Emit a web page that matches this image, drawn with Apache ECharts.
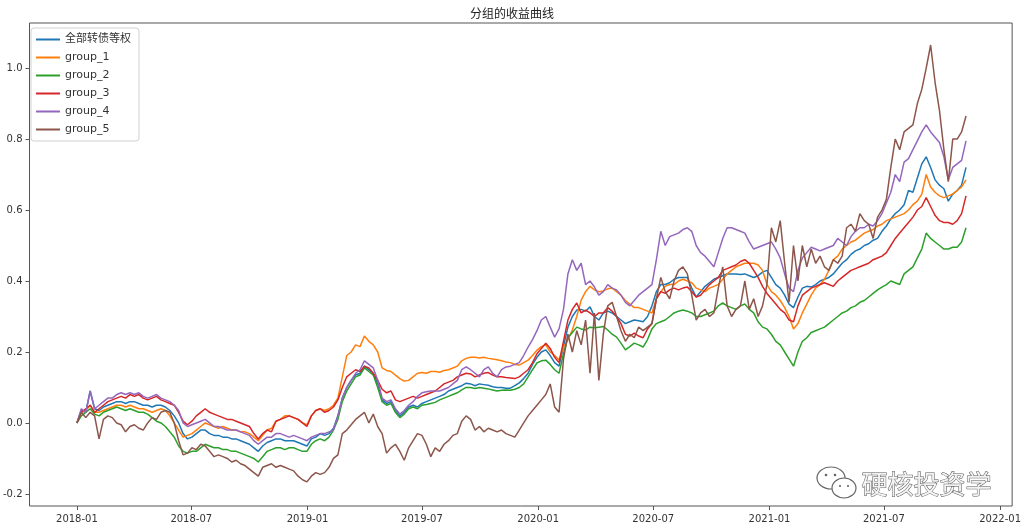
<!DOCTYPE html>
<html>
<head>
<meta charset="utf-8">
<script src="https://cdn.jsdelivr.net/npm/echarts@6/dist/echarts.min.js"></script>
<style>
html,body{margin:0;padding:0;background:#fff;}
#chart{width:1024px;height:529px;}
</style>
</head>
<body>
<div id="chart"></div>
<script>
// ---- data (weekly samples starting 2018-01-01) ----
const startDate = [2018, 0, 1];
const stepDays = 7;
const seriesNames = ['全部转债等权', 'group_1', 'group_2', 'group_3', 'group_4', 'group_5'];
const xTickLabels = ['2018-01','2018-07','2019-01','2019-07','2020-01','2020-07','2021-01','2021-07','2022-01'];
const yTickValues = [-0.2, 0.0, 0.2, 0.4, 0.6, 0.8, 1.0];

const allEq = [
0,.035,.03,.09,.04,.035,.045,.05,.055,.06,
.06,.055,.06,.06,.055,.05,.05,.045,.05,.05,
.045,.035,.02,0,-.03,-.045,-.04,-.03,-.02,-.02,
-.03,-.035,-.035,-.04,-.04,-.045,-.045,-.05,-.055,-.06,
-.07,-.08,-.065,-.055,-.05,-.045,-.045,-.05,-.05,-.05,
-.055,-.06,-.065,-.045,-.04,-.03,-.035,-.03,-.015,.02,
.07,.1,.12,.135,.14,.16,.15,.14,.11,.065,
.055,.06,.035,.02,.03,.045,.05,.045,.055,.06,
.065,.07,.075,.08,.09,.095,.1,.105,.112,.11,
.105,.11,.108,.106,.102,.1,.1,.098,.098,.105,
.113,.125,.14,.165,.185,.2,.206,.19,.17,.16,
.215,.27,.3,.318,.32,.315,.327,.3,.29,.31,
.315,.31,.3,.29,.28,.285,.29,.288,.285,.3,
.33,.37,.39,.39,.395,.405,.41,.41,.41,.38,
.355,.37,.385,.395,.405,.41,.415,.42,.42,.42,
.418,.42,.415,.41,.415,.425,.43,.41,.39,.38,
.36,.335,.325,.355,.38,.385,.383,.39,.4,.405,
.41,.42,.435,.45,.46,.475,.485,.49,.5,.505,
.515,.52,.54,.555,.575,.59,.6,.615,.655,.65,
.69,.73,.75,.72,.685,.67,.66,.625,.645,.655,
.67,.72];

const group1 = [
0,.03,.035,.05,.03,.03,.035,.04,.045,.05,
.05,.045,.05,.045,.04,.04,.035,.03,.035,.04,
.035,.02,0,-.02,-.04,-.035,-.03,-.02,-.01,0,
-.005,-.01,-.015,-.01,-.015,-.02,-.02,-.025,-.025,-.03,
-.04,-.05,-.035,-.02,-.015,.005,.01,.02,.02,.015,
.01,0,-.005,.02,.035,.04,.035,.04,.05,.07,
.13,.19,.2,.22,.215,.245,.23,.22,.2,.155,
.148,.145,.135,.125,.118,.12,.13,.14,.142,.14,
.145,.145,.143,.148,.15,.155,.16,.175,.182,.185,
.185,.183,.185,.182,.18,.178,.175,.172,.17,.165,
.163,.17,.177,.19,.205,.215,.22,.2,.19,.178,
.214,.235,.262,.3,.346,.37,.385,.375,.37,.372,
.378,.38,.37,.36,.345,.335,.325,.325,.32,.315,
.31,.35,.37,.385,.39,.39,.4,.405,.4,.395,
.38,.375,.37,.38,.385,.39,.405,.42,.43,.44,
.445,.45,.45,.45,.445,.43,.39,.37,.36,.345,
.325,.3,.265,.28,.31,.335,.36,.38,.39,.405,
.43,.46,.47,.49,.5,.51,.515,.525,.535,.54,
.545,.555,.56,.57,.575,.58,.585,.59,.6,.615,
.625,.645,.7,.665,.65,.64,.635,.64,.645,.655,
.665,.685];

const group2 = [
0,.02,.03,.04,.025,.02,.03,.035,.04,.045,
.04,.035,.04,.035,.03,.03,.025,.015,.005,0,
-.01,-.025,-.04,-.065,-.08,-.085,-.08,-.08,-.07,-.06,
-.065,-.07,-.07,-.075,-.075,-.08,-.08,-.085,-.09,-.095,
-.1,-.11,-.095,-.08,-.075,-.07,-.07,-.075,-.07,-.07,
-.075,-.08,-.08,-.06,-.05,-.045,-.05,-.04,-.02,.01,
.06,.09,.11,.13,.135,.155,.145,.135,.1,.06,
.05,.055,.03,.015,.025,.04,.045,.04,.05,.052,
.055,.058,.065,.07,.075,.08,.085,.093,.1,.1,
.097,.1,.098,.096,.093,.09,.092,.093,.092,.095,
.1,.11,.13,.15,.169,.175,.177,.165,.15,.14,
.195,.24,.255,.27,.265,.262,.27,.268,.27,.272,
.262,.25,.242,.225,.206,.215,.225,.22,.214,.235,
.265,.28,.285,.29,.3,.31,.315,.318,.315,.31,
.3,.3,.305,.31,.315,.33,.338,.33,.325,.32,
.33,.335,.32,.31,.285,.27,.265,.25,.23,.22,
.2,.18,.16,.2,.23,.24,.255,.26,.265,.27,
.28,.29,.3,.31,.315,.325,.33,.34,.345,.355,
.365,.375,.383,.39,.4,.395,.39,.42,.43,.44,
.465,.49,.535,.52,.51,.5,.49,.49,.495,.495,
.51,.55];

const group3 = [
0,.03,.04,.05,.03,.04,.05,.06,.065,.07,
.075,.07,.08,.075,.08,.07,.065,.07,.075,.065,
.06,.055,.05,.03,.005,-.005,.005,.02,.03,.04,
.03,.025,.02,.015,.01,.01,.005,0,-.005,-.01,
-.03,-.045,-.03,-.02,-.025,.005,.01,.015,.02,.015,
.01,0,-.01,.02,.035,.04,.03,.035,.045,.065,
.1,.13,.14,.15,.145,.16,.155,.14,.12,.095,
.085,.09,.065,.06,.065,.07,.075,.07,.075,.08,
.085,.09,.1,.11,.115,.12,.13,.135,.14,.138,
.13,.135,.14,.142,.135,.13,.13,.128,.127,.125,
.13,.14,.15,.17,.195,.21,.225,.21,.185,.17,
.23,.29,.32,.338,.31,.318,.31,.3,.31,.31,
.325,.315,.3,.28,.25,.245,.253,.245,.24,.265,
.28,.35,.37,.365,.375,.38,.375,.38,.383,.37,
.355,.36,.375,.39,.4,.41,.43,.435,.44,.445,
.455,.46,.45,.43,.41,.385,.365,.35,.335,.32,
.31,.29,.285,.33,.36,.37,.38,.385,.39,.395,
.39,.385,.4,.41,.42,.43,.435,.44,.445,.45,
.46,.465,.47,.48,.5,.52,.535,.55,.565,.58,
.6,.61,.635,.61,.585,.57,.565,.565,.56,.57,
.59,.64];

const group4 = [
0,.04,.03,.09,.04,.05,.06,.07,.07,.08,
.085,.08,.085,.08,.085,.075,.07,.075,.08,.07,
.065,.06,.05,.035,0,-.01,-.005,0,.005,.01,
0,-.01,-.01,-.015,-.02,-.02,-.02,-.025,-.03,-.035,
-.05,-.06,-.05,-.04,-.04,-.03,-.03,-.035,-.04,-.035,
-.04,-.045,-.05,-.04,-.035,-.03,-.03,-.025,-.02,.02,
.07,.1,.12,.14,.15,.175,.165,.155,.12,.07,
.06,.065,.04,.025,.035,.05,.06,.075,.085,.088,
.09,.09,.09,.095,.1,.11,.12,.15,.158,.15,
.14,.13,.15,.158,.14,.13,.15,.158,.16,.165,
.17,.19,.214,.235,.26,.29,.3,.27,.242,.265,
.32,.42,.46,.43,.45,.39,.4,.383,.36,.37,
.39,.38,.375,.36,.34,.33,.345,.36,.37,.38,
.39,.46,.54,.5,.525,.53,.535,.545,.55,.54,
.5,.48,.47,.455,.44,.48,.52,.55,.55,.545,
.54,.535,.51,.49,.495,.5,.505,.51,.49,.465,
.42,.38,.37,.43,.465,.48,.495,.49,.485,.49,
.495,.5,.52,.51,.5,.525,.54,.55,.55,.56,
.555,.57,.59,.62,.65,.7,.68,.735,.745,.77,
.795,.82,.84,.82,.805,.79,.75,.685,.72,.73,
.74,.795];

const group5 = [
0,.03,.015,.03,.02,-.045,.01,.02,.015,0,
-.005,-.025,-.01,-.005,-.015,-.02,0,.015,.01,.03,
.035,.03,0,-.05,-.09,-.085,-.07,-.075,-.06,-.065,
-.08,-.095,-.09,-.095,-.1,-.11,-.105,-.115,-.12,-.13,
-.14,-.15,-.125,-.12,-.115,-.125,-.12,-.125,-.13,-.135,
-.15,-.16,-.166,-.15,-.14,-.145,-.14,-.125,-.1,-.09,
-.03,-.02,-.005,.01,.02,.03,0,.025,-.01,-.03,
-.085,-.07,-.06,-.08,-.105,-.07,-.05,-.03,-.035,-.06,
-.095,-.07,-.08,-.06,-.05,-.035,-.03,.005,.02,.01,
-.02,-.01,-.025,-.015,-.02,-.025,-.02,-.03,-.035,-.04,
-.02,0,.02,.035,.05,.065,.08,.11,.045,.03,
.18,.25,.2,.26,.22,.29,.14,.31,.12,.25,
.33,.34,.3,.26,.23,.25,.24,.27,.26,.27,
.28,.35,.41,.37,.35,.4,.43,.44,.42,.36,
.29,.31,.32,.3,.31,.38,.44,.33,.3,.32,
.33,.4,.32,.35,.3,.33,.39,.55,.51,.57,
.45,.34,.5,.4,.5,.44,.49,.45,.47,.44,
.43,.46,.45,.47,.55,.56,.54,.59,.57,.56,
.52,.58,.6,.63,.72,.8,.77,.82,.83,.84,
.9,.94,1.0,1.065,.96,.88,.77,.68,.8,.8,
.82,.865];

const seriesValues = [allEq, group1, group2, group3, group4, group5];
const colors = ['#1f77b4', '#ff7f0e', '#2ca02c', '#d62728', '#9467bd', '#8c564b'];

// ---- build ----
const DAY = 86400000;
const t0 = Date.UTC(startDate[0], startDate[1], startDate[2]);
function ym(s) { const p = s.split('-'); return Date.UTC(+p[0], +p[1] - 1, 1); }
const xTickValues = xTickLabels.map(ym);
function fmtYM(v) {
  const d = new Date(v);
  const m = d.getUTCMonth() + 1;
  return d.getUTCFullYear() + '-' + (m < 10 ? '0' + m : m);
}

const series = seriesNames.map((name, i) => ({
  name: name,
  type: 'line',
  symbol: 'none',
  showSymbol: false,
  color: colors[i],
  lineStyle: { width: 1.5, color: colors[i] },
  data: seriesValues[i].map((v, k) => [t0 + k * stepDays * DAY, v]),
  animation: false
}));

const chart = echarts.init(document.getElementById('chart'), null, { renderer: 'canvas' });
const fontFamily = '"DejaVu Sans", "Noto Sans CJK SC", sans-serif';

chart.setOption({
  backgroundColor: '#ffffff',
  animation: false,
  color: colors,
  title: {
    text: '分组的收益曲线',
    left: 'center',
    top: 4,
    textStyle: { fontSize: 12, fontWeight: 'normal', color: '#222', fontFamily: fontFamily }
  },
  legend: {
    orient: 'vertical',
    left: 31,
    top: 28,
    padding: [5, 8, 5, 5],
    icon: 'rect',
    itemWidth: 24,
    itemHeight: 2,
    itemGap: 5,
    backgroundColor: '#ffffff',
    borderColor: '#d0d0d0',
    borderWidth: 1,
    borderRadius: 3,
    textStyle: { fontSize: 11, color: '#333', fontFamily: fontFamily, lineHeight: 13 },
    data: seriesNames
  },
  grid: {
    left: 27, right: 8, top: 23, bottom: 23,
    show: true,
    borderColor: '#555',
    borderWidth: 1,
    backgroundColor: 'transparent'
  },
  xAxis: {
    type: 'value',
    min: Date.UTC(2017, 9, 18),
    max: Date.UTC(2022, 0, 20),
    scale: true,
    axisLine: { show: false, onZero: false },
    splitLine: { show: false },
    axisTick: { show: true, inside: false, length: 4, lineStyle: { color: '#555' }, customValues: xTickValues },
    axisLabel: {
      show: true, margin: 8, fontSize: 10, color: '#333', fontFamily: fontFamily,
      customValues: xTickValues,
      formatter: function (v) { return fmtYM(v); }
    }
  },
  yAxis: {
    type: 'value',
    min: -0.234,
    max: 1.127,
    axisLine: { show: false, onZero: false },
    splitLine: { show: false },
    axisTick: { show: true, inside: false, length: 4, lineStyle: { color: '#555' }, customValues: yTickValues },
    axisLabel: {
      show: true, margin: 7, fontSize: 10, color: '#333', fontFamily: fontFamily,
      customValues: yTickValues,
      formatter: function (v) { return v.toFixed(1); }
    }
  },
  graphic: [
    { type: 'ellipse', shape: { cx: 831, cy: 478, rx: 14, ry: 11 }, style: { fill: '#fff', stroke: '#666', lineWidth: 1.2 }, z: 100 },
    { type: 'ellipse', shape: { cx: 844, cy: 488, rx: 12, ry: 10 }, style: { fill: '#fff', stroke: '#666', lineWidth: 1.2 }, z: 101 },
    { type: 'circle', shape: { cx: 826, cy: 475, r: 1.3 }, style: { fill: '#666' }, z: 102 },
    { type: 'circle', shape: { cx: 835, cy: 475, r: 1.3 }, style: { fill: '#666' }, z: 102 },
    { type: 'circle', shape: { cx: 840, cy: 486, r: 1.1 }, style: { fill: '#666' }, z: 102 },
    { type: 'circle', shape: { cx: 848, cy: 486, r: 1.1 }, style: { fill: '#666' }, z: 102 },
    { type: 'text', left: 861, top: 471, z: 103,
      style: { text: '硬核投资学', fontSize: 26, fontFamily: '"Noto Sans CJK SC", sans-serif', fill: '#f2f2f2', stroke: '#555', lineWidth: 1 } }
  ],
  series: series
});
</script>
</body>
</html>
